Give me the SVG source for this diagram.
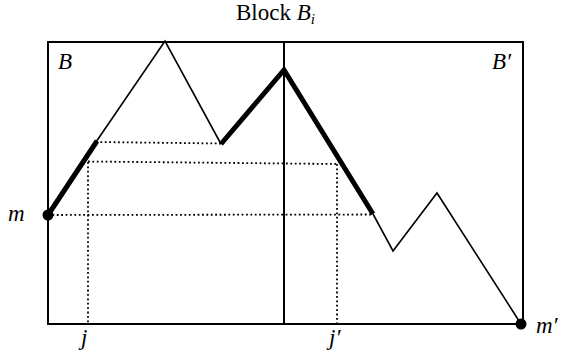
<svg xmlns="http://www.w3.org/2000/svg" width="563" height="362" viewBox="0 0 563 362">
<style>
.frame{fill:none;stroke:#000;stroke-width:2}
.thin{fill:none;stroke:#000;stroke-width:1.6;stroke-linejoin:miter}
.thick{fill:none;stroke:#000;stroke-width:5;stroke-linejoin:miter;stroke-linecap:butt}
.dot{fill:none;stroke:#000;stroke-width:1.8;stroke-dasharray:1.8 2.6}
text{font-family:'Liberation Serif','Times New Roman',serif;fill:#000}
.t{font-size:23px}
.i{font-style:italic}
</style>
<rect fill="#fff" width="563" height="362"/>
<g id="title"><text class="t" x="236" y="20" font-size="22">Block <tspan class="i">B</tspan><tspan class="i" font-size="15" dy="4">i</tspan></text></g>
<g id="blocks">
<rect class="frame" x="48" y="42" width="475" height="282"/>
<line class="frame" x1="284" y1="42" x2="284" y2="324"/>
</g>
<g id="connectors">
<polyline class="dot" points="96,142 221,143.5"/>
<polyline class="dot" points="88,161.5 337,164"/>
<polyline class="dot" points="48,215 373,214.5"/>
<line class="dot" x1="88" y1="162" x2="88" y2="324"/>
<line class="dot" x1="337" y1="164" x2="337" y2="324"/>
<polyline class="thin" points="96,142 165,41 221,144"/>
<polyline class="thin" points="373,214 393,251 437,193 521,324"/>
<polyline class="thick" points="48,215 97,141"/>
<polyline class="thick" points="221,144 284,70 373,214"/>
</g>
<g id="m"><circle cx="48" cy="215" r="5.5"/><text class="t i" x="8" y="221">m</text></g>
<g id="mprime"><circle cx="521" cy="324" r="5.5"/><text class="t i" x="536" y="333">m′</text></g>
<g id="labelB"><text class="t i" x="58" y="69">B</text></g>
<g id="labelBprime"><text class="t i" x="492" y="69">B′</text></g>
<g id="j"><text class="t i" x="81" y="345">j</text></g>
<g id="jprime"><text class="t i" x="329" y="345">j′</text></g>
</svg>
